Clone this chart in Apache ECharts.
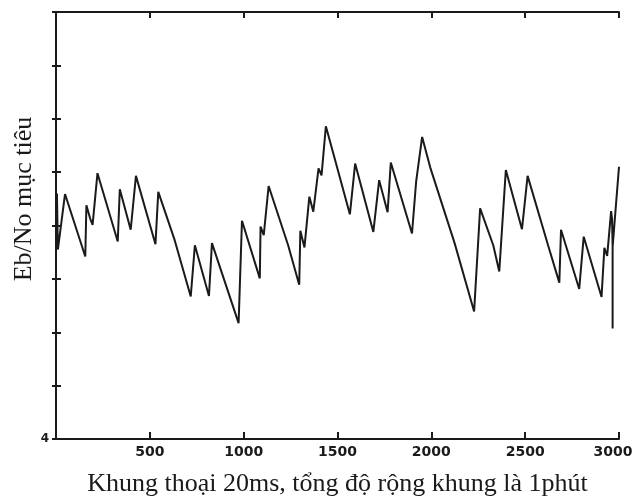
<!DOCTYPE html>
<html>
<head>
<meta charset="utf-8">
<script src="https://cdn.jsdelivr.net/npm/echarts@6/dist/echarts.min.js"></script>
<style>
	html, body { margin: 0; padding: 0; background: #fff; }
	#chart { width: 637px; height: 499px; }
</style>
</head>
<body>
<div id="chart"></div>
<script>
// khung thoại (20 ms) và Eb/No mục tiêu
var frameX = [0, 5, 10, 48, 156, 162, 182, 195, 221, 329, 340, 398, 426, 530, 545, 632, 718, 740, 815, 831,
	973, 991, 1086, 1090, 1107, 1133, 1237, 1296, 1302, 1324, 1350, 1371, 1399, 1415, 1438, 1497, 1566, 1594,
	1691, 1722, 1767, 1784, 1897, 1919, 1951, 1994, 2124, 2228, 2260, 2330, 2362, 2397, 2483, 2513, 2622,
	2682, 2691, 2788, 2812, 2907, 2922, 2937, 2958, 2963, 2966, 2966, 2966, 3000];
var targetEbNo = [7.7, 8.6, 7.55, 8.59, 7.42, 8.38, 8.13, 8.01, 8.98, 7.7, 8.68, 7.92, 8.93, 7.65, 8.63, 7.73, 6.67, 7.63, 6.68, 7.67,
	6.17, 8.09, 7.01, 7.98, 7.82, 8.74, 7.63, 6.89, 7.9, 7.59, 8.54, 8.26, 9.07, 8.94, 9.86, 9.1, 8.21, 9.16,
	7.88, 8.85, 8.25, 9.18, 7.85, 8.82, 9.66, 9.09, 7.67, 6.39, 8.32, 7.63, 7.14, 9.04, 7.93, 8.93, 7.63,
	6.93, 7.92, 6.81, 7.79, 6.66, 7.58, 7.43, 8.27, 8.12, 7.6, 6.07, 7.6, 9.1];
var xTickLabels = ['', '500', '1000', '1500', '2000', '2500', '3000'];
var yTickLabels = ['4'];

var ink = '#1a1a1a';

var points = frameX.map(function(x, i){
	return [x, targetEbNo[i]];
});

var myChart = echarts.init(document.getElementById('chart'));
var option = {
	animation : false,
	backgroundColor : '#fff',
	grid : {
		left : 56,
		right : 18,
		top : 12,
		bottom : 60,
		outerBoundsMode : 'none'
	},
	graphic : [
		{
			type : 'text',
			x : 24,
			y : 199,
			rotation : Math.PI / 2,
			style : {
				text : 'Eb/No mục tiêu',
				font : '26px "Liberation Serif"',
				fill : ink,
				textAlign : 'center',
				textVerticalAlign : 'middle'
			}
		}
	],
	xAxis : [
		{
			type : 'value',
			min : 0,
			max : 3000,
			interval : 500,
			name : 'Khung thoại 20ms, tổng độ rộng khung là 1phút',
			nameLocation : 'middle',
			nameGap : 32,
			nameTextStyle : {
				fontFamily : 'Liberation Serif',
				fontSize : 26,
				color : ink
			},
			axisLine : { lineStyle : { color : ink, width : 2 } },
			axisTick : { inside : true, length : 7, lineStyle : { color : ink, width : 2 } },
			axisLabel : {
				margin : 6,
				fontFamily : 'DejaVu Sans',
				fontWeight : 'bold',
				fontSize : 14,
				color : ink,
				formatter : function(v){
					var i = Math.round(v / 500);
					if (i === xTickLabels.length - 1) {
						return '{last|' + xTickLabels[i] + '}';
					}
					return xTickLabels[i] || '';
				},
				rich : {
					last : {
						fontFamily : 'DejaVu Sans',
						fontWeight : 'bold',
						fontSize : 14,
						color : ink,
						padding : [0, 12, 0, 0]
					}
				}
			},
			splitLine : { show : false }
		},
		{
			type : 'value',
			position : 'top',
			min : 0,
			max : 3000,
			interval : 500,
			axisLine : { lineStyle : { color : ink, width : 2 } },
			axisTick : { inside : true, length : 6, lineStyle : { color : ink, width : 2 } },
			axisLabel : { show : false },
			splitLine : { show : false }
		}
	],
	yAxis : [
		{
			type : 'value',
			min : 4,
			max : 12,
			interval : 1,
			axisLine : { show : true, lineStyle : { color : ink, width : 2 } },
			axisTick : { inside : true, length : 5, lineStyle : { color : ink, width : 2 } },
			axisLabel : {
				margin : 7,
				fontFamily : 'DejaVu Sans',
				fontWeight : 'bold',
				fontSize : 12,
				color : ink,
				formatter : function(v){
					return v === 4 ? yTickLabels[0] : '';
				}
			},
			splitLine : { show : false }
		},
		{
			type : 'value',
			position : 'right',
			min : 4,
			max : 12,
			interval : 1,
			axisLine : { show : true, lineStyle : { color : ink, width : 2 } },
			axisTick : { inside : true, length : 4, lineStyle : { color : ink, width : 2 } },
			axisLabel : { show : false },
			splitLine : { show : false }
		}
	],
	series : [
		{
			type : 'line',
			data : points,
			showSymbol : false,
			symbol : 'none',
			lineStyle : {
				color : ink,
				width : 2
			}
		}
	]
};
myChart.setOption(option);
</script>
</body>
</html>
